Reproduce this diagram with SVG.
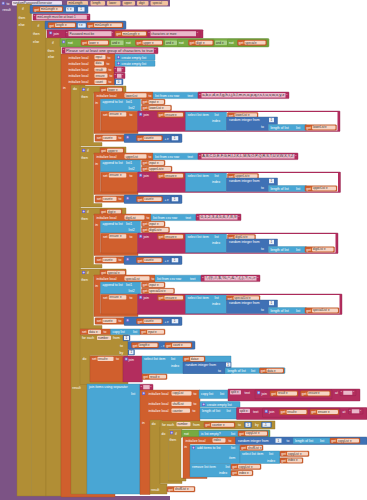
<svg xmlns="http://www.w3.org/2000/svg" xmlns:xlink="http://www.w3.org/1999/xlink" width="367" height="500" viewBox="0 0 367 500">
<style>
.p{fill:#7C5385}
.c{fill:#B18E35;stroke:#96772b;stroke-width:.4}
.g{fill:#77AB41;stroke:#5f8a34;stroke-width:.4}
.m{fill:#3F71B5;stroke:#325a91;stroke-width:.4}
.x{fill:#B32D5E;stroke:#8f244b;stroke-width:.4}
.l{fill:#49A6D4;stroke:#3a85aa;stroke-width:.4}
.v{fill:#D05F2D;stroke:#a64c24;stroke-width:.4}
.f{fill:#f6d5c3}
.fp{fill:#eab8ca}
.fn{fill:#e8eef7}
.fg{fill:#a9cf85}
.pf{fill:#f2c29d}
text{font-family:"Liberation Sans",Arial,sans-serif;font-size:3.4px;fill:#fff}
.d{fill:#333;font-size:3px}
</style>
<defs>
<symbol id="gr" viewBox="0 0 4 4"><rect width="4" height="4" rx=".6" fill="#6b63c9"/><path d="M2 .8V3.2M.8 2H3.2" stroke="#fff" stroke-width=".6"/></symbol>
</defs>

<g id="proc">
<rect class="p" x="0" y="0" width="17" height="500"/>
<rect class="p" x="0" y="0" width="170" height="6.5"/>
<rect class="p" x="0" y="496" width="170" height="4"/>
<use href="#gr" x="1.5" y="1.5" width="3.4" height="3.4"/>
<text x="6.5" y="4.6">to</text>
<rect fill="#ecdff0" x="12" y="1" width="50" height="4.4" rx=".8"/><text class="d" x="13" y="4.2" style="font-size:3.2px">randomPasswordGenerator</text>
<rect class="pf" x="67" y="1" width="21" height="4.4" rx=".8"/><text class="d" x="68.5" y="4.2">minLength</text>
<rect class="pf" x="90.5" y="1" width="14.5" height="4.4" rx=".8"/><text class="d" x="92.3" y="4.2">length</text>
<rect class="pf" x="107" y="1" width="13.5" height="4.4" rx=".8"/><text class="d" x="109" y="4.2">lower</text>
<rect class="pf" x="122.5" y="1" width="12.5" height="4.4" rx=".8"/><text class="d" x="124" y="4.2">upper</text>
<rect class="pf" x="137" y="1" width="11.5" height="4.4" rx=".8"/><text class="d" x="139" y="4.2">digit</text>
<rect class="pf" x="150.5" y="1" width="17.5" height="4.4" rx=".8"/><text class="d" x="152.5" y="4.2">special</text>
<text x="2.5" y="10.8">result</text>
</g>

<g id="if1">
<rect class="c" x="17" y="4" width="14.5" height="492"/>
<text x="22" y="10">if</text>
<text x="18.5" y="18.5">then</text>
<text x="18.5" y="25.5">else</text>
<rect class="m" x="30" y="5" width="58" height="8.5" rx="1"/>
<g transform="translate(33,6.5)"><rect class="v" width="30" height="5.4" rx=".8"/><text x="1.3" y="4">get</text><rect class="f" x="7" y=".8" width="22" height="3.8" rx=".8"/><text class="d" x="7.8" y="3.7">minLength ▾</text></g>
<rect class="fn" x="66" y="7.2" width="8" height="4.2" rx=".6"/><text class="d" x="67" y="10.2">&lt; ▾</text>
<rect class="m" x="76.5" y="6.3" width="9.5" height="6" rx=".8"/><rect class="fn" x="78" y="7.2" width="6.5" height="4.2"/><text class="d" x="80.2" y="10.2">1</text>
<rect class="x" x="33" y="14" width="57" height="6.2" rx=".6"/><text x="34" y="18.4">“</text><rect class="fp" x="36.3" y="14.8" width="50.5" height="4.6"/><text class="d" x="37.2" y="18.1">minLength must be at least 1</text><text x="87.5" y="18.4">”</text>
</g>

<g id="if2">
<rect class="c" x="31.5" y="21" width="14.5" height="475"/>
<text x="37.5" y="26.5">if</text>
<text x="33" y="34.8">then</text>
<text x="33" y="42.5">else</text>
<rect class="m" x="45" y="21" width="81" height="8.3" rx="1"/>
<g transform="translate(48,22.5)"><rect class="v" width="28" height="5.4" rx=".8"/><text x="1.3" y="4">get</text><rect class="f" x="7" y=".8" width="20" height="3.8" rx=".8"/><text class="d" x="7.8" y="3.7">length ▾</text></g>
<rect class="fn" x="77.8" y="23.2" width="8" height="4.2" rx=".6"/><text class="d" x="78.8" y="26.2">&lt; ▾</text>
<g transform="translate(87,22.5)"><rect class="v" width="36" height="5.4" rx=".8"/><text x="1.3" y="4">get</text><rect class="f" x="7" y=".8" width="28" height="3.8" rx=".8"/><text class="d" x="7.8" y="3.7">minLength ▾</text></g>
<rect class="x" x="47" y="29.7" width="156" height="8.4" rx=".6"/>
<use href="#gr" x="49" y="31.2" width="3.4" height="3.4"/>
<text x="53.5" y="35">join</text>
<rect class="x" x="65.5" y="30.4" width="48.5" height="6.6" rx=".6"/><text x="66.3" y="34.8">“</text><rect class="fp" x="68.5" y="31.2" width="43" height="5"/><text class="d" x="69.5" y="34.6">Password must be</text><text x="111.8" y="34.8">”</text>
<g transform="translate(115,31)"><rect class="v" width="32" height="5.4" rx=".8"/><text x="1.3" y="4">get</text><rect class="f" x="7" y=".8" width="24" height="3.8" rx=".8"/><text class="d" x="7.8" y="3.7">minLength ▾</text></g>
<rect class="x" x="148" y="30.4" width="52" height="6.6" rx=".6"/><text x="148.6" y="34.8">“</text><rect class="fp" x="150.5" y="31.2" width="45.5" height="5"/><text class="d" x="151.3" y="34.6">characters or more</text><text x="196.8" y="34.8">”</text>
</g>

<g id="if3">
<rect class="c" x="46" y="38" width="15" height="458"/>
<text x="52" y="43.5">if</text>
<text x="47.5" y="51.5">then</text>
<text x="48" y="58">else</text>
<rect class="g" x="60" y="38.5" width="209" height="8.5" rx="1"/>
<use href="#gr" x="62" y="40.2" width="3.4" height="3.4"/>
<rect class="g" x="66.5" y="39.3" width="43.5" height="7" rx=".6"/><text x="68" y="44">not</text>
<g transform="translate(81,40)"><rect class="v" width="28" height="5.4" rx=".8"/><text x="1.3" y="4">get</text><rect class="f" x="7" y=".8" width="20" height="3.8" rx=".8"/><text class="d" x="7.8" y="3.7">lower ▾</text></g>
<rect class="fg" x="111" y="40.5" width="12.5" height="4.4" rx=".6"/><text class="d" x="112" y="43.6">and ▾</text>
<rect class="g" x="124.5" y="39.3" width="39.5" height="7" rx=".6"/><text x="126" y="44">not</text>
<g transform="translate(135.5,40)"><rect class="v" width="27.5" height="5.4" rx=".8"/><text x="1.3" y="4">get</text><rect class="f" x="7" y=".8" width="19.5" height="3.8" rx=".8"/><text class="d" x="7.8" y="3.7">upper ▾</text></g>
<rect class="fg" x="165" y="40.5" width="12" height="4.4" rx=".6"/><text class="d" x="165.8" y="43.6">and ▾</text>
<rect class="g" x="177.5" y="39.3" width="36.5" height="7" rx=".6"/><text x="179" y="44">not</text>
<g transform="translate(188.5,40)"><rect class="v" width="25" height="5.4" rx=".8"/><text x="1.3" y="4">get</text><rect class="f" x="7" y=".8" width="17" height="3.8" rx=".8"/><text class="d" x="7.8" y="3.7">digit ▾</text></g>
<rect class="fg" x="215" y="40.5" width="12" height="4.4" rx=".6"/><text class="d" x="215.8" y="43.6">and ▾</text>
<rect class="g" x="227.5" y="39.3" width="40" height="7" rx=".6"/><text x="229" y="44">not</text>
<g transform="translate(237.5,40)"><rect class="v" width="29" height="5.4" rx=".8"/><text x="1.3" y="4">get</text><rect class="f" x="7" y=".8" width="21" height="3.8" rx=".8"/><text class="d" x="7.8" y="3.7">special ▾</text></g>
<rect class="x" x="62" y="47.5" width="96" height="6.2" rx=".6"/><text x="63" y="51.9">“</text><rect class="fp" x="65.3" y="48.3" width="88.5" height="4.6"/><text class="d" x="66" y="51.6" textLength="87" lengthAdjust="spacingAndGlyphs">Please set at least one group of characters to true</text><text x="154.5" y="51.9">”</text>
</g>

<g id="init-main">
<path class="v" d="M61 54H115V85H71V493.5H115V497H61z"/>
<text x="68.5" y="58.6">initialize local</text>
<rect class="f" x="94.5" y="55" width="11" height="4.2" rx=".8"/><text class="d" x="95.5" y="58.2">input</text><text x="107.5" y="58.6">to</text>
<rect class="l" x="115" y="54.3" width="40" height="5.8" rx=".6"/><use href="#gr" x="116.8" y="55.5" width="3.4" height="3.4"/><text x="121.5" y="58.6">create empty list</text>
<text x="68.5" y="64.8">initialize local</text>
<rect class="f" x="94.5" y="61.2" width="9.5" height="4.2" rx=".8"/><text class="d" x="95.5" y="64.4">data</text><text x="106.5" y="64.8">to</text>
<rect class="l" x="115" y="60.5" width="40" height="5.8" rx=".6"/><use href="#gr" x="116.8" y="61.7" width="3.4" height="3.4"/><text x="121.5" y="64.8">create empty list</text>
<text x="68.5" y="71">initialize local</text>
<rect class="f" x="94.5" y="67.4" width="12" height="4.2" rx=".8"/><text class="d" x="95.5" y="70.6">result</text><text x="108.5" y="71">to</text>
<rect class="x" x="114" y="66.8" width="11" height="5.6" rx=".6"/><text x="114.8" y="71">“</text><rect class="fp" x="117" y="67.6" width="4.5" height="4"/><text x="122" y="71">”</text>
<text x="68.5" y="77.2">initialize local</text>
<rect class="f" x="94.5" y="73.6" width="13" height="4.2" rx=".8"/><text class="d" x="95.5" y="76.8">ensure</text><text x="109.5" y="77.2">to</text>
<rect class="x" x="114" y="73" width="11" height="5.6" rx=".6"/><text x="114.8" y="77.2">“</text><rect class="fp" x="117" y="73.8" width="4.5" height="4"/><text x="122" y="77.2">”</text>
<text x="68.5" y="83.4">initialize local</text>
<rect class="f" x="94.5" y="79.8" width="12" height="4.2" rx=".8"/><text class="d" x="95.5" y="83">count</text><text x="108.5" y="83.4">to</text>
<rect class="m" x="114.5" y="79" width="8.5" height="5.8" rx=".6"/><rect class="fn" x="116" y="79.8" width="5.5" height="4.2"/><text class="d" x="117.8" y="83">0</text>
<text x="63" y="89">in</text>
</g>

<g id="do-result">
<path class="c" d="M71 85H85V92H80.5V383.5H87V494H71z"/>
<text x="73" y="90">do</text>
<text x="72.3" y="389">result</text>
</g>

<g id="if-lower" transform="translate(0,86)">
<path class="c" d="M80 0h46v7.2H93.5v49.3H102V60H80z"/>
<use href="#gr" x="82" y="1.8" width="3.4" height="3.4"/>
<text x="87" y="5">if</text>
<g transform="translate(100,0.9)"><rect class="v" width="23" height="5.4" rx=".8"/><text x="1.3" y="4">get</text><rect class="f" x="7" y=".8" width="15" height="3.8" rx=".8"/><text class="d" x="7.8" y="3.7">lower ▾</text></g>
<text x="81.3" y="11.7">then</text>
<path class="v" d="M94 6h59v7H100.5v31.5H138v3H94z"/>
<text x="96.5" y="10.9">initialize local</text>
<rect class="f" x="124.5" y="7.2" width="22" height="4.4" rx=".8"/><text class="d" x="125.5" y="10.5">lowerList</text>
<text x="148.5" y="10.9">to</text>
<rect class="l" x="153" y="6.2" width="45" height="6.4" rx=".6"/><text x="155" y="10.7">list from csv row</text><text x="187.5" y="10.7">text</text>
<rect class="x" x="198" y="6" width="91" height="6.6" rx=".6"/><text x="199.2" y="10.8">“</text><rect class="fp" x="201.5" y="7" width="84" height="4.6"/><text class="d" x="202.3" y="10.3" textLength="82" lengthAdjust="spacingAndGlyphs">a,b,c,d,e,f,g,h,i,j,k,l,m,n,o,p,q,r,s,t,u,v,w,x,y,z</text><text x="286.3" y="10.8">”</text>
<text x="95.3" y="18">in</text>
<rect class="l" x="100.5" y="13" width="40" height="12" rx=".6"/><text x="102.5" y="17.3">append to list</text><text x="126" y="17.3">list1</text><text x="128.5" y="23.3">list2</text>
<g transform="translate(141.5,13.3)"><rect class="v" width="23.5" height="5.4" rx=".8"/><text x="1.3" y="4">get</text><rect class="f" x="7" y=".8" width="15.5" height="3.8" rx=".8"/><text class="d" x="7.8" y="3.7">input ▾</text></g>
<g transform="translate(141.5,19.3)"><rect class="v" width="30" height="5.4" rx=".8"/><text x="1.3" y="4">get</text><rect class="f" x="7" y=".8" width="22" height="3.8" rx=".8"/><text class="d" x="7.8" y="3.7">lowerList ▾</text></g>
<rect class="v" x="101" y="25.2" width="36.5" height="20" rx=".6"/><text x="103" y="29.6">set</text><rect class="f" x="108.8" y="26.3" width="17.5" height="4.2" rx=".8"/><text class="d" x="109.6" y="29.4">ensure ▾</text><text x="129.5" y="29.6">to</text>
<rect class="x" x="137.5" y="25" width="202.5" height="20.5" rx=".6"/><use href="#gr" x="139" y="26.5" width="3.4" height="3.4"/><text x="143.5" y="29.6">join</text>
<g transform="translate(157.5,26)"><rect class="v" width="26.5" height="5.4" rx=".8"/><text x="1.3" y="4">get</text><rect class="f" x="7" y=".8" width="18.5" height="3.8" rx=".8"/><text class="d" x="7.8" y="3.7">ensure ▾</text></g>
<rect fill="#fff" x="226" y="26" width="111.5" height="18.5"/>
<rect class="l" x="185.5" y="26" width="41" height="18.5"/><text x="187.5" y="30">select list item</text><text x="214.5" y="30">list</text><text x="212" y="36">index</text>
<g transform="translate(227.5,26.5)"><rect class="v" width="30.5" height="5.4" rx=".8"/><text x="1.3" y="4">get</text><rect class="f" x="7" y=".8" width="22.5" height="3.8" rx=".8"/><text class="d" x="7.8" y="3.7">lowerList ▾</text></g>
<path class="m" d="M226.5 31h51v7.5h-9v6h-42z"/><text x="229" y="35">random integer from</text><rect class="fn" x="269" y="31.8" width="5" height="4.4"/><text class="d" x="270.5" y="35">1</text><text x="261" y="42.3">to</text>
<rect class="l" x="268.5" y="38.6" width="38" height="6" rx=".6"/><text x="270.5" y="42.6">length of list</text><text x="296" y="42.6">list</text>
<g transform="translate(305,38.8)"><rect class="v" width="31.5" height="5.4" rx=".8"/><text x="1.3" y="4">get</text><rect class="f" x="7" y=".8" width="23.5" height="3.8" rx=".8"/><text class="d" x="7.8" y="3.7">lowerList ▾</text></g>
<rect class="v" x="95" y="48.7" width="29" height="6.5" rx=".6"/><text x="96.8" y="53.2">set</text><rect class="f" x="102.5" y="49.8" width="14" height="4.3" rx=".8"/><text class="d" x="103.3" y="53">count ▾</text><text x="118.5" y="53.2">to</text>
<rect class="m" x="124" y="48" width="58" height="8.5" rx=".8"/><use href="#gr" x="126" y="49.5" width="3.4" height="3.4"/>
<g transform="translate(136.5,49.5)"><rect class="v" width="26" height="5.4" rx=".8"/><text x="1.3" y="4">get</text><rect class="f" x="7" y=".8" width="18" height="3.8" rx=".8"/><text class="d" x="7.8" y="3.7">count ▾</text></g>
<text x="164.5" y="53.8">+ ▾</text>
<rect class="m" x="170.5" y="49.3" width="9" height="5.8" rx=".6"/><rect class="fn" x="171.8" y="50.1" width="6.4" height="4.2"/><text class="d" x="173.8" y="53.2">1</text>
</g>

<g id="if-upper" transform="translate(0,147)">
<path class="c" d="M80 0h46v7.2H93.5v49.3H102V60H80z"/>
<use href="#gr" x="82" y="1.8" width="3.4" height="3.4"/>
<text x="87" y="5">if</text>
<g transform="translate(100,0.9)"><rect class="v" width="24" height="5.4" rx=".8"/><text x="1.3" y="4">get</text><rect class="f" x="7" y=".8" width="16" height="3.8" rx=".8"/><text class="d" x="7.8" y="3.7">upper ▾</text></g>
<text x="81.3" y="11.7">then</text>
<path class="v" d="M94 6h59v7H100.5v31.5H138v3H94z"/>
<text x="96.5" y="10.9">initialize local</text>
<rect class="f" x="124.5" y="7.2" width="22" height="4.4" rx=".8"/><text class="d" x="125.5" y="10.5">upperList</text>
<text x="148.5" y="10.9">to</text>
<rect class="l" x="153" y="6.2" width="45" height="6.4" rx=".6"/><text x="155" y="10.7">list from csv row</text><text x="187.5" y="10.7">text</text>
<rect class="x" x="198" y="6" width="100" height="6.6" rx=".6"/><text x="199.2" y="10.8">“</text><rect class="fp" x="201.5" y="7" width="93" height="4.6"/><text class="d" x="202.3" y="10.3" textLength="91" lengthAdjust="spacingAndGlyphs">A,B,C,D,E,F,G,H,I,J,K,L,M,N,O,P,Q,R,S,T,U,V,W,X,Y,Z</text><text x="295.3" y="10.8">”</text>
<text x="95.3" y="18">in</text>
<rect class="l" x="100.5" y="13" width="40" height="12" rx=".6"/><text x="102.5" y="17.3">append to list</text><text x="126" y="17.3">list1</text><text x="128.5" y="23.3">list2</text>
<g transform="translate(141.5,13.3)"><rect class="v" width="23.5" height="5.4" rx=".8"/><text x="1.3" y="4">get</text><rect class="f" x="7" y=".8" width="15.5" height="3.8" rx=".8"/><text class="d" x="7.8" y="3.7">input ▾</text></g>
<g transform="translate(141.5,19.3)"><rect class="v" width="30.5" height="5.4" rx=".8"/><text x="1.3" y="4">get</text><rect class="f" x="7" y=".8" width="22.5" height="3.8" rx=".8"/><text class="d" x="7.8" y="3.7">upperList ▾</text></g>
<rect class="v" x="101" y="25.2" width="36.5" height="20" rx=".6"/><text x="103" y="29.6">set</text><rect class="f" x="108.8" y="26.3" width="17.5" height="4.2" rx=".8"/><text class="d" x="109.6" y="29.4">ensure ▾</text><text x="129.5" y="29.6">to</text>
<rect class="x" x="137.5" y="25" width="203" height="20.5" rx=".6"/><use href="#gr" x="139" y="26.5" width="3.4" height="3.4"/><text x="143.5" y="29.6">join</text>
<g transform="translate(157.5,26)"><rect class="v" width="26.5" height="5.4" rx=".8"/><text x="1.3" y="4">get</text><rect class="f" x="7" y=".8" width="18.5" height="3.8" rx=".8"/><text class="d" x="7.8" y="3.7">ensure ▾</text></g>
<rect fill="#fff" x="226" y="26" width="112" height="18.5"/>
<rect class="l" x="185.5" y="26" width="41" height="18.5"/><text x="187.5" y="30">select list item</text><text x="214.5" y="30">list</text><text x="212" y="36">index</text>
<g transform="translate(227.5,26.5)"><rect class="v" width="31" height="5.4" rx=".8"/><text x="1.3" y="4">get</text><rect class="f" x="7" y=".8" width="23" height="3.8" rx=".8"/><text class="d" x="7.8" y="3.7">upperList ▾</text></g>
<path class="m" d="M226.5 31h51v7.5h-9v6h-42z"/><text x="229" y="35">random integer from</text><rect class="fn" x="269" y="31.8" width="5" height="4.4"/><text class="d" x="270.5" y="35">1</text><text x="261" y="42.3">to</text>
<rect class="l" x="268.5" y="38.6" width="38" height="6" rx=".6"/><text x="270.5" y="42.6">length of list</text><text x="296" y="42.6">list</text>
<g transform="translate(305,38.8)"><rect class="v" width="32" height="5.4" rx=".8"/><text x="1.3" y="4">get</text><rect class="f" x="7" y=".8" width="24" height="3.8" rx=".8"/><text class="d" x="7.8" y="3.7">upperList ▾</text></g>
<rect class="v" x="95" y="48.7" width="29" height="6.5" rx=".6"/><text x="96.8" y="53.2">set</text><rect class="f" x="102.5" y="49.8" width="14" height="4.3" rx=".8"/><text class="d" x="103.3" y="53">count ▾</text><text x="118.5" y="53.2">to</text>
<rect class="m" x="124" y="48" width="58" height="8.5" rx=".8"/><use href="#gr" x="126" y="49.5" width="3.4" height="3.4"/>
<g transform="translate(136.5,49.5)"><rect class="v" width="26" height="5.4" rx=".8"/><text x="1.3" y="4">get</text><rect class="f" x="7" y=".8" width="18" height="3.8" rx=".8"/><text class="d" x="7.8" y="3.7">count ▾</text></g>
<text x="164.5" y="53.8">+ ▾</text>
<rect class="m" x="170.5" y="49.3" width="9" height="5.8" rx=".6"/><rect class="fn" x="171.8" y="50.1" width="6.4" height="4.2"/><text class="d" x="173.8" y="53.2">1</text>
</g>

<g id="if-digit" transform="translate(0,208)">
<path class="c" d="M80 0h46v7.2H93.5v49.3H102V60H80z"/>
<use href="#gr" x="82" y="1.8" width="3.4" height="3.4"/>
<text x="87" y="5">if</text>
<g transform="translate(100,0.9)"><rect class="v" width="22" height="5.4" rx=".8"/><text x="1.3" y="4">get</text><rect class="f" x="7" y=".8" width="14" height="3.8" rx=".8"/><text class="d" x="7.8" y="3.7">digit ▾</text></g>
<text x="81.3" y="11.7">then</text>
<path class="v" d="M94 6h57v7H100.5v31.5H138v3H94z"/>
<text x="96.5" y="10.9">initialize local</text>
<rect class="f" x="124.5" y="7.2" width="20" height="4.4" rx=".8"/><text class="d" x="125.5" y="10.5">digitList</text>
<text x="146.5" y="10.9">to</text>
<rect class="l" x="151" y="6.2" width="45" height="6.4" rx=".6"/><text x="153" y="10.7">list from csv row</text><text x="185.5" y="10.7">text</text>
<rect class="x" x="196" y="6" width="45" height="6.6" rx=".6"/><text x="197.2" y="10.8">“</text><rect class="fp" x="199.5" y="7" width="38" height="4.6"/><text class="d" x="200.5" y="10.3" textLength="36" lengthAdjust="spacingAndGlyphs">0,1,2,3,4,5,6,7,8,9</text><text x="238.3" y="10.8">”</text>
<text x="95.3" y="18">in</text>
<rect class="l" x="100.5" y="13" width="40" height="12" rx=".6"/><text x="102.5" y="17.3">append to list</text><text x="126" y="17.3">list1</text><text x="128.5" y="23.3">list2</text>
<g transform="translate(141.5,13.3)"><rect class="v" width="23.5" height="5.4" rx=".8"/><text x="1.3" y="4">get</text><rect class="f" x="7" y=".8" width="15.5" height="3.8" rx=".8"/><text class="d" x="7.8" y="3.7">input ▾</text></g>
<g transform="translate(141.5,19.3)"><rect class="v" width="28" height="5.4" rx=".8"/><text x="1.3" y="4">get</text><rect class="f" x="7" y=".8" width="20" height="3.8" rx=".8"/><text class="d" x="7.8" y="3.7">digitList ▾</text></g>
<rect class="v" x="101" y="25.2" width="36.5" height="20" rx=".6"/><text x="103" y="29.6">set</text><rect class="f" x="108.8" y="26.3" width="17.5" height="4.2" rx=".8"/><text class="d" x="109.6" y="29.4">ensure ▾</text><text x="129.5" y="29.6">to</text>
<rect class="x" x="137.5" y="25" width="200.5" height="20.5" rx=".6"/><use href="#gr" x="139" y="26.5" width="3.4" height="3.4"/><text x="143.5" y="29.6">join</text>
<g transform="translate(157.5,26)"><rect class="v" width="26.5" height="5.4" rx=".8"/><text x="1.3" y="4">get</text><rect class="f" x="7" y=".8" width="18.5" height="3.8" rx=".8"/><text class="d" x="7.8" y="3.7">ensure ▾</text></g>
<rect fill="#fff" x="226" y="26" width="109.5" height="18.5"/>
<rect class="l" x="185.5" y="26" width="41" height="18.5"/><text x="187.5" y="30">select list item</text><text x="214.5" y="30">list</text><text x="212" y="36">index</text>
<g transform="translate(227.5,26.5)"><rect class="v" width="28" height="5.4" rx=".8"/><text x="1.3" y="4">get</text><rect class="f" x="7" y=".8" width="20" height="3.8" rx=".8"/><text class="d" x="7.8" y="3.7">digitList ▾</text></g>
<path class="m" d="M226.5 31h51v7.5h-9v6h-42z"/><text x="229" y="35">random integer from</text><rect class="fn" x="269" y="31.8" width="5" height="4.4"/><text class="d" x="270.5" y="35">1</text><text x="261" y="42.3">to</text>
<rect class="l" x="268.5" y="38.6" width="38" height="6" rx=".6"/><text x="270.5" y="42.6">length of list</text><text x="296" y="42.6">list</text>
<g transform="translate(305,38.8)"><rect class="v" width="29.5" height="5.4" rx=".8"/><text x="1.3" y="4">get</text><rect class="f" x="7" y=".8" width="21.5" height="3.8" rx=".8"/><text class="d" x="7.8" y="3.7">digitList ▾</text></g>
<rect class="v" x="95" y="48.7" width="29" height="6.5" rx=".6"/><text x="96.8" y="53.2">set</text><rect class="f" x="102.5" y="49.8" width="14" height="4.3" rx=".8"/><text class="d" x="103.3" y="53">count ▾</text><text x="118.5" y="53.2">to</text>
<rect class="m" x="124" y="48" width="58" height="8.5" rx=".8"/><use href="#gr" x="126" y="49.5" width="3.4" height="3.4"/>
<g transform="translate(136.5,49.5)"><rect class="v" width="26" height="5.4" rx=".8"/><text x="1.3" y="4">get</text><rect class="f" x="7" y=".8" width="18" height="3.8" rx=".8"/><text class="d" x="7.8" y="3.7">count ▾</text></g>
<text x="164.5" y="53.8">+ ▾</text>
<rect class="m" x="170.5" y="49.3" width="9" height="5.8" rx=".6"/><rect class="fn" x="171.8" y="50.1" width="6.4" height="4.2"/><text class="d" x="173.8" y="53.2">1</text>
</g>

<g id="if-special" transform="translate(0,269)">
<path class="c" d="M80 0h46v7.2H93.5v49.3H102V60H80z"/>
<use href="#gr" x="82" y="1.8" width="3.4" height="3.4"/>
<text x="87" y="5">if</text>
<g transform="translate(100,0.9)"><rect class="v" width="26" height="5.4" rx=".8"/><text x="1.3" y="4">get</text><rect class="f" x="7" y=".8" width="18" height="3.8" rx=".8"/><text class="d" x="7.8" y="3.7">special ▾</text></g>
<text x="81.3" y="11.7">then</text>
<path class="v" d="M94 6h61v7H100.5v31.5H138v3H94z"/>
<text x="96.5" y="10.9">initialize local</text>
<rect class="f" x="124.5" y="7.2" width="25" height="4.4" rx=".8"/><text class="d" x="125.5" y="10.5">specialList</text>
<text x="151.5" y="10.9">to</text>
<rect class="l" x="155" y="6.2" width="46" height="6.4" rx=".6"/><text x="157" y="10.7">list from csv row</text><text x="190" y="10.7">text</text>
<rect class="x" x="201" y="6" width="59" height="6.6" rx=".6"/><text x="202.2" y="10.8">“</text><rect class="fp" x="204.5" y="7" width="52" height="4.6"/><text class="d" x="205.5" y="10.3" textLength="50" lengthAdjust="spacingAndGlyphs">!,@,#,$,%,^,&amp;,*,(,),?,&lt;,&gt;</text><text x="257.3" y="10.8">”</text>
<text x="95.3" y="18">in</text>
<rect class="l" x="100.5" y="13" width="40" height="12" rx=".6"/><text x="102.5" y="17.3">append to list</text><text x="126" y="17.3">list1</text><text x="128.5" y="23.3">list2</text>
<g transform="translate(141.5,13.3)"><rect class="v" width="23.5" height="5.4" rx=".8"/><text x="1.3" y="4">get</text><rect class="f" x="7" y=".8" width="15.5" height="3.8" rx=".8"/><text class="d" x="7.8" y="3.7">input ▾</text></g>
<g transform="translate(141.5,19.3)"><rect class="v" width="33" height="5.4" rx=".8"/><text x="1.3" y="4">get</text><rect class="f" x="7" y=".8" width="25" height="3.8" rx=".8"/><text class="d" x="7.8" y="3.7">specialList ▾</text></g>
<rect class="v" x="101" y="25.2" width="36.5" height="20" rx=".6"/><text x="103" y="29.6">set</text><rect class="f" x="108.8" y="26.3" width="17.5" height="4.2" rx=".8"/><text class="d" x="109.6" y="29.4">ensure ▾</text><text x="129.5" y="29.6">to</text>
<rect class="x" x="137.5" y="25" width="204.5" height="20.5" rx=".6"/><use href="#gr" x="139" y="26.5" width="3.4" height="3.4"/><text x="143.5" y="29.6">join</text>
<g transform="translate(157.5,26)"><rect class="v" width="26.5" height="5.4" rx=".8"/><text x="1.3" y="4">get</text><rect class="f" x="7" y=".8" width="18.5" height="3.8" rx=".8"/><text class="d" x="7.8" y="3.7">ensure ▾</text></g>
<rect fill="#fff" x="226" y="26" width="113.5" height="18.5"/>
<rect class="l" x="185.5" y="26" width="41" height="18.5"/><text x="187.5" y="30">select list item</text><text x="214.5" y="30">list</text><text x="212" y="36">index</text>
<g transform="translate(226.5,26.5)"><rect class="v" width="33.5" height="5.4" rx=".8"/><text x="1.3" y="4">get</text><rect class="f" x="7" y=".8" width="25.5" height="3.8" rx=".8"/><text class="d" x="7.8" y="3.7">specialList ▾</text></g>
<path class="m" d="M226.5 31h51v7.5h-9v6h-42z"/><text x="229" y="35">random integer from</text><rect class="fn" x="269" y="31.8" width="5" height="4.4"/><text class="d" x="270.5" y="35">1</text><text x="261" y="42.3">to</text>
<rect class="l" x="268.5" y="38.6" width="38" height="6" rx=".6"/><text x="270.5" y="42.6">length of list</text><text x="296" y="42.6">list</text>
<g transform="translate(305,38.8)"><rect class="v" width="34" height="5.4" rx=".8"/><text x="1.3" y="4">get</text><rect class="f" x="7" y=".8" width="26" height="3.8" rx=".8"/><text class="d" x="7.8" y="3.7">specialList ▾</text></g>
<rect class="v" x="95" y="48.7" width="29" height="6.5" rx=".6"/><text x="96.8" y="53.2">set</text><rect class="f" x="102.5" y="49.8" width="14" height="4.3" rx=".8"/><text class="d" x="103.3" y="53">count ▾</text><text x="118.5" y="53.2">to</text>
<rect class="m" x="124" y="48" width="58" height="8.5" rx=".8"/><use href="#gr" x="126" y="49.5" width="3.4" height="3.4"/>
<g transform="translate(136.5,49.5)"><rect class="v" width="26" height="5.4" rx=".8"/><text x="1.3" y="4">get</text><rect class="f" x="7" y=".8" width="18" height="3.8" rx=".8"/><text class="d" x="7.8" y="3.7">count ▾</text></g>
<text x="164.5" y="53.8">+ ▾</text>
<rect class="m" x="170.5" y="49.3" width="9" height="5.8" rx=".6"/><rect class="fn" x="171.8" y="50.1" width="6.4" height="4.2"/><text class="d" x="173.8" y="53.2">1</text>
</g>

<g id="set-data">
<rect class="v" x="80" y="329" width="31" height="5.8" rx=".6"/><text x="82" y="333.2">set</text><rect class="f" x="88" y="329.8" width="13" height="4.2" rx=".8"/><text class="d" x="89" y="333">data ▾</text><text x="103.5" y="333.2">to</text>
<rect class="l" x="110.5" y="329" width="30" height="5.8" rx=".6"/><text x="112.5" y="333.2">copy list</text><text x="133" y="333.2">list</text>
<g transform="translate(140,329.2)"><rect class="v" width="25" height="5.4" rx=".8"/><text x="1.3" y="4">get</text><rect class="f" x="7" y=".8" width="17" height="3.8" rx=".8"/><text class="d" x="7.8" y="3.7">input ▾</text></g>
</g>

<g id="foreach1">
<path class="c" d="M80 335h48v20.5H90V381.5h38V384.5H80z"/>
<text x="82" y="339.3">for each</text>
<rect class="f" x="97" y="335.8" width="14" height="4.2" rx=".8"/><text class="d" x="98" y="339">number</text>
<text x="113" y="339.3">from</text>
<rect class="m" x="123" y="335.2" width="7" height="5.6" rx=".6"/><rect class="fn" x="124" y="336" width="5" height="4"/><text class="d" x="125.6" y="339">1</text>
<text x="120" y="346.5">to</text>
<rect class="m" x="128" y="341.2" width="67" height="8" rx=".8"/>
<g transform="translate(131.5,342.5)"><rect class="v" width="27" height="5.4" rx=".8"/><text x="1.3" y="4">get</text><rect class="f" x="7" y=".8" width="19" height="3.8" rx=".8"/><text class="d" x="7.8" y="3.7">length ▾</text></g>
<text x="161" y="347">- ▾</text>
<g transform="translate(165,342.5)"><rect class="v" width="27" height="5.4" rx=".8"/><text x="1.3" y="4">get</text><rect class="f" x="7" y=".8" width="19" height="3.8" rx=".8"/><text class="d" x="7.8" y="3.7">count ▾</text></g>
<text x="119.5" y="353.5">by</text>
<rect class="m" x="128" y="349.5" width="6.5" height="5.6" rx=".6"/><rect class="fn" x="129" y="350.3" width="4.5" height="4"/><text class="d" x="130.4" y="353.3">1</text>
<text x="82.5" y="359.5">do</text>
<rect class="v" x="90" y="356" width="33" height="26" rx=".6"/><text x="92" y="360.3">set</text><rect class="f" x="97.5" y="356.8" width="16" height="4.2" rx=".8"/><text class="d" x="98.3" y="360">result ▾</text><text x="116" y="360.3">to</text>
<rect class="x" x="123" y="356" width="19.5" height="26" rx=".6"/><use href="#gr" x="124.5" y="357.3" width="3.4" height="3.4"/><text x="128.5" y="360.5">join</text>
<path class="l" d="M142 356h89v17.5H142z"/><text x="144" y="360.3">select list item</text><text x="171" y="360.3">list</text><text x="171" y="366.8">index</text>
<g transform="translate(183,356.3)"><rect class="v" width="22" height="5.4" rx=".8"/><text x="1.3" y="4">get</text><rect class="f" x="7" y=".8" width="14" height="3.8" rx=".8"/><text class="d" x="7.8" y="3.7">data ▾</text></g>
<path class="m" d="M183 362h48v6h-6v5.5h-42z"/><text x="185.5" y="365.8">random integer from</text><rect class="fn" x="226" y="362.6" width="4.5" height="4"/><text class="d" x="227.3" y="365.6">1</text><text x="218" y="371.8">to</text>
<rect class="l" x="225" y="367.8" width="60" height="5.6" rx=".6"/><text x="227.5" y="371.7">length of list</text><text x="251" y="371.7">list</text>
<g transform="translate(259.5,368)"><rect class="v" width="24.5" height="5.2" rx=".8"/><text x="1.3" y="4">get</text><rect class="f" x="7" y=".8" width="16.5" height="3.6" rx=".8"/><text class="d" x="7.8" y="3.6">data ▾</text></g>
<g transform="translate(142,374)"><rect class="v" width="25" height="5.4" rx=".8"/><text x="1.3" y="4">get</text><rect class="f" x="7" y=".8" width="17" height="3.8" rx=".8"/><text class="d" x="7.8" y="3.7">result ▾</text></g>
</g>

<g id="join-items">
<rect class="l" x="87" y="384" width="53" height="110"/>
<text x="89" y="388.2">join items using separator</text>
<text x="131" y="394.5">list</text>
<rect class="x" x="140" y="384.3" width="13" height="5.8" rx=".6"/><text x="140.8" y="388.5">“</text><rect class="fp" x="143.2" y="385.1" width="6.5" height="4.2"/><text x="150.2" y="388.5">”</text>
</g>

<g id="init-copy">
<path class="v" d="M140 390H200V421H150V494.5H140z"/>
<use href="#gr" x="142" y="391.5" width="3.4" height="3.4"/>
<text x="148.5" y="394.8">initialize local</text>
<rect class="f" x="171.5" y="391.2" width="20" height="4.2" rx=".8"/><text class="d" x="172.4" y="394.4">copyList</text><text x="193.5" y="394.8">to</text>
<rect class="l" x="199" y="390" width="29" height="8.5" rx=".6"/><text x="201" y="394.6">copy list</text><text x="220" y="394.6">list</text>
<rect class="x" x="228" y="389" width="132" height="12" rx=".6"/>
<rect class="fp" x="230" y="390.2" width="11" height="4.2" rx=".6"/><text class="d" x="230.8" y="393.4">split ▾</text>
<text x="244.5" y="394">text</text>
<rect class="x" x="255" y="389.8" width="77" height="9" rx=".6"/><use href="#gr" x="257" y="391" width="3.4" height="3.4"/><text x="261.5" y="394.5">join</text>
<g transform="translate(270,390.8)"><rect class="v" width="28" height="5.4" rx=".8"/><text x="1.3" y="4">get</text><rect class="f" x="7" y=".8" width="20" height="3.8" rx=".8"/><text class="d" x="7.8" y="3.7">result ▾</text></g>
<g transform="translate(300.5,390.8)"><rect class="v" width="30" height="5.4" rx=".8"/><text x="1.3" y="4">get</text><rect class="f" x="7" y=".8" width="22" height="3.8" rx=".8"/><text class="d" x="7.8" y="3.7">ensure ▾</text></g>
<text x="335" y="394.3">at</text>
<rect class="x" x="340" y="390" width="16" height="5.6" rx=".6"/><text x="340.8" y="394.2">“</text><rect class="fp" x="343.3" y="390.8" width="9" height="4"/><text x="353" y="394.2">”</text>
<text x="148.5" y="405.4">initialize local</text>
<rect class="f" x="171.5" y="401.8" width="20" height="4.2" rx=".8"/><text class="d" x="172.4" y="405">shuffList</text><text x="193.5" y="405.4">to</text>
<rect class="l" x="200" y="401.5" width="40" height="5.8" rx=".6"/><use href="#gr" x="202" y="402.7" width="3.4" height="3.4"/><text x="207" y="405.7">create empty list</text>
<text x="148.5" y="412">initialize local</text>
<rect class="f" x="171.5" y="408.5" width="18.5" height="4.2" rx=".8"/><text class="d" x="172.4" y="411.7">counter</text><text x="192.5" y="412">to</text>
<rect class="l" x="200" y="408" width="37" height="11" rx=".6"/><text x="202" y="412">length of list</text><text x="226.5" y="412">list</text>
<rect class="x" x="236.5" y="407.5" width="130.5" height="12" rx=".6"/>
<rect class="fp" x="239" y="408.7" width="11" height="4.2" rx=".6"/><text class="d" x="239.8" y="411.9">split ▾</text>
<text x="253" y="412.5">text</text>
<rect class="x" x="262.5" y="408.3" width="77.5" height="9" rx=".6"/><use href="#gr" x="264.5" y="409.5" width="3.4" height="3.4"/><text x="269" y="413">join</text>
<g transform="translate(279.5,409.3)"><rect class="v" width="28" height="5.4" rx=".8"/><text x="1.3" y="4">get</text><rect class="f" x="7" y=".8" width="20" height="3.8" rx=".8"/><text class="d" x="7.8" y="3.7">result ▾</text></g>
<g transform="translate(310,409.3)"><rect class="v" width="29" height="5.4" rx=".8"/><text x="1.3" y="4">get</text><rect class="f" x="7" y=".8" width="21" height="3.8" rx=".8"/><text class="d" x="7.8" y="3.7">ensure ▾</text></g>
<text x="342.5" y="412.7">at</text>
<rect class="x" x="348.5" y="408.5" width="14.5" height="5.6" rx=".6"/><text x="349.2" y="412.7">“</text><rect class="fp" x="351.8" y="409.3" width="7.5" height="4"/><text x="360" y="412.7">”</text>
<text x="142" y="424">in</text>
</g>

<g id="do-result2">
<path class="c" d="M150 420H162V427H160V484H167V494H150z"/>
<text x="151.8" y="425.2">do</text>
<text x="151" y="490.5">result</text>
<g transform="translate(167,486.5)"><rect class="v" width="28" height="5.4" rx=".8"/><text x="1.3" y="4">get</text><rect class="f" x="7" y=".8" width="20" height="3.8" rx=".8"/><text class="d" x="7.8" y="3.7">shuffList ▾</text></g>
</g>

<g id="foreach2">
<path class="c" d="M160 421H275V429H168.5V480.5H182V483.5H160z"/>
<text x="162" y="425.6">for each</text>
<rect class="f" x="176.5" y="422" width="14" height="4.2" rx=".8"/><text class="d" x="177.4" y="425.2">number</text>
<text x="193" y="425.6">from</text>
<g transform="translate(204,422.2)"><rect class="v" width="31" height="5.4" rx=".8"/><text x="1.3" y="4">get</text><rect class="f" x="7" y=".8" width="23" height="3.8" rx=".8"/><text class="d" x="7.8" y="3.7">counter ▾</text></g>
<text x="238" y="425.6">to</text>
<rect class="m" x="244.5" y="422" width="7" height="5.6" rx=".6"/><rect class="fn" x="245.5" y="422.8" width="5" height="4"/><text class="d" x="247.2" y="425.8">1</text>
<text x="255" y="425.6">by</text>
<rect class="m" x="261.5" y="422" width="10" height="5.6" rx=".6"/><rect class="fn" x="262.5" y="422.8" width="8" height="4"/><text class="d" x="264" y="425.8">-1</text>
<text x="161.5" y="434.5">do</text>
</g>

<g id="if-empty">
<path class="c" d="M168.5 429.5H182V437.5H181V478H186V481H168.5z"/>
<use href="#gr" x="170" y="431" width="3.4" height="3.4"/>
<text x="175" y="434.5">if</text>
<text x="169.5" y="441.3">then</text>
<rect class="g" x="181.5" y="430" width="88.5" height="7" rx=".8"/><text x="184" y="434.5">not</text>
<rect class="l" x="199" y="430.6" width="70" height="5.8" rx=".6"/><text x="201" y="434.6">is list empty?</text><text x="231" y="434.6">list</text>
<g transform="translate(238,430.8)"><rect class="v" width="30" height="5.4" rx=".8"/><text x="1.3" y="4">get</text><rect class="f" x="7" y=".8" width="22" height="3.8" rx=".8"/><text class="d" x="7.8" y="3.7">copyList ▾</text></g>
</g>

<g id="init-index">
<path class="v" d="M183 437H236V444H190V476H207V478.5H183z"/>
<text x="185.5" y="441.5">initialize local</text>
<rect class="f" x="212.5" y="438.2" width="13" height="4.2" rx=".8"/><text class="d" x="213.5" y="441.4">index</text><text x="228.5" y="441.5">to</text>
<rect class="m" x="235.5" y="437" width="131.5" height="7.5" rx=".6"/><text x="238" y="441.5">random integer from</text>
<rect class="fn" x="275.5" y="438.4" width="6" height="4.4"/><text class="d" x="277.4" y="441.7">1</text>
<text x="286.5" y="441.6">to</text>
<rect class="l" x="293" y="437.8" width="37.5" height="6" rx=".6"/><text x="295" y="441.8">length of list</text><text x="320" y="441.8">list</text>
<g transform="translate(330,438)"><rect class="v" width="30" height="5.4" rx=".8"/><text x="1.3" y="4">get</text><rect class="f" x="7" y=".8" width="22" height="3.8" rx=".8"/><text class="d" x="7.8" y="3.7">copyList ▾</text></g>
<text x="184.3" y="448.3">in</text>
<rect class="l" x="190" y="445" width="50" height="18.5" rx=".6"/><use href="#gr" x="191.8" y="446" width="3.4" height="3.4"/><text x="197" y="449">add items to list</text><text x="231" y="449">list</text><text x="229" y="458.5">item</text>
<g transform="translate(240,445)"><rect class="v" width="23" height="5.4" rx=".8"/><text x="1.3" y="4">get</text><rect class="f" x="7" y=".8" width="15" height="3.8" rx=".8"/><text class="d" x="7.8" y="3.7">shuffList ▾</text></g>
<rect class="l" x="240" y="451" width="40" height="12.5" rx=".6"/><text x="242" y="455">select list item</text><text x="269" y="455">list</text><text x="267" y="461.6">index</text>
<g transform="translate(280,451)"><rect class="v" width="29" height="5.4" rx=".8"/><text x="1.3" y="4">get</text><rect class="f" x="7" y=".8" width="21" height="3.8" rx=".8"/><text class="d" x="7.8" y="3.7">copyList ▾</text></g>
<g transform="translate(280,457.8)"><rect class="v" width="23" height="5.4" rx=".8"/><text x="1.3" y="4">get</text><rect class="f" x="7" y=".8" width="15" height="3.8" rx=".8"/><text class="d" x="7.8" y="3.7">index ▾</text></g>
<rect class="l" x="190" y="463.5" width="41" height="13.5" rx=".6"/><text x="192" y="467.6">remove list item</text><text x="225.5" y="467.6">list</text><text x="219" y="474.3">index</text>
<g transform="translate(231,464)"><rect class="v" width="30" height="5.4" rx=".8"/><text x="1.3" y="4">get</text><rect class="f" x="7" y=".8" width="22" height="3.8" rx=".8"/><text class="d" x="7.8" y="3.7">copyList ▾</text></g>
<g transform="translate(231,470.3)"><rect class="v" width="22" height="5.4" rx=".8"/><text x="1.3" y="4">get</text><rect class="f" x="7" y=".8" width="14" height="3.8" rx=".8"/><text class="d" x="7.8" y="3.7">index ▾</text></g>
</g>
</svg>
